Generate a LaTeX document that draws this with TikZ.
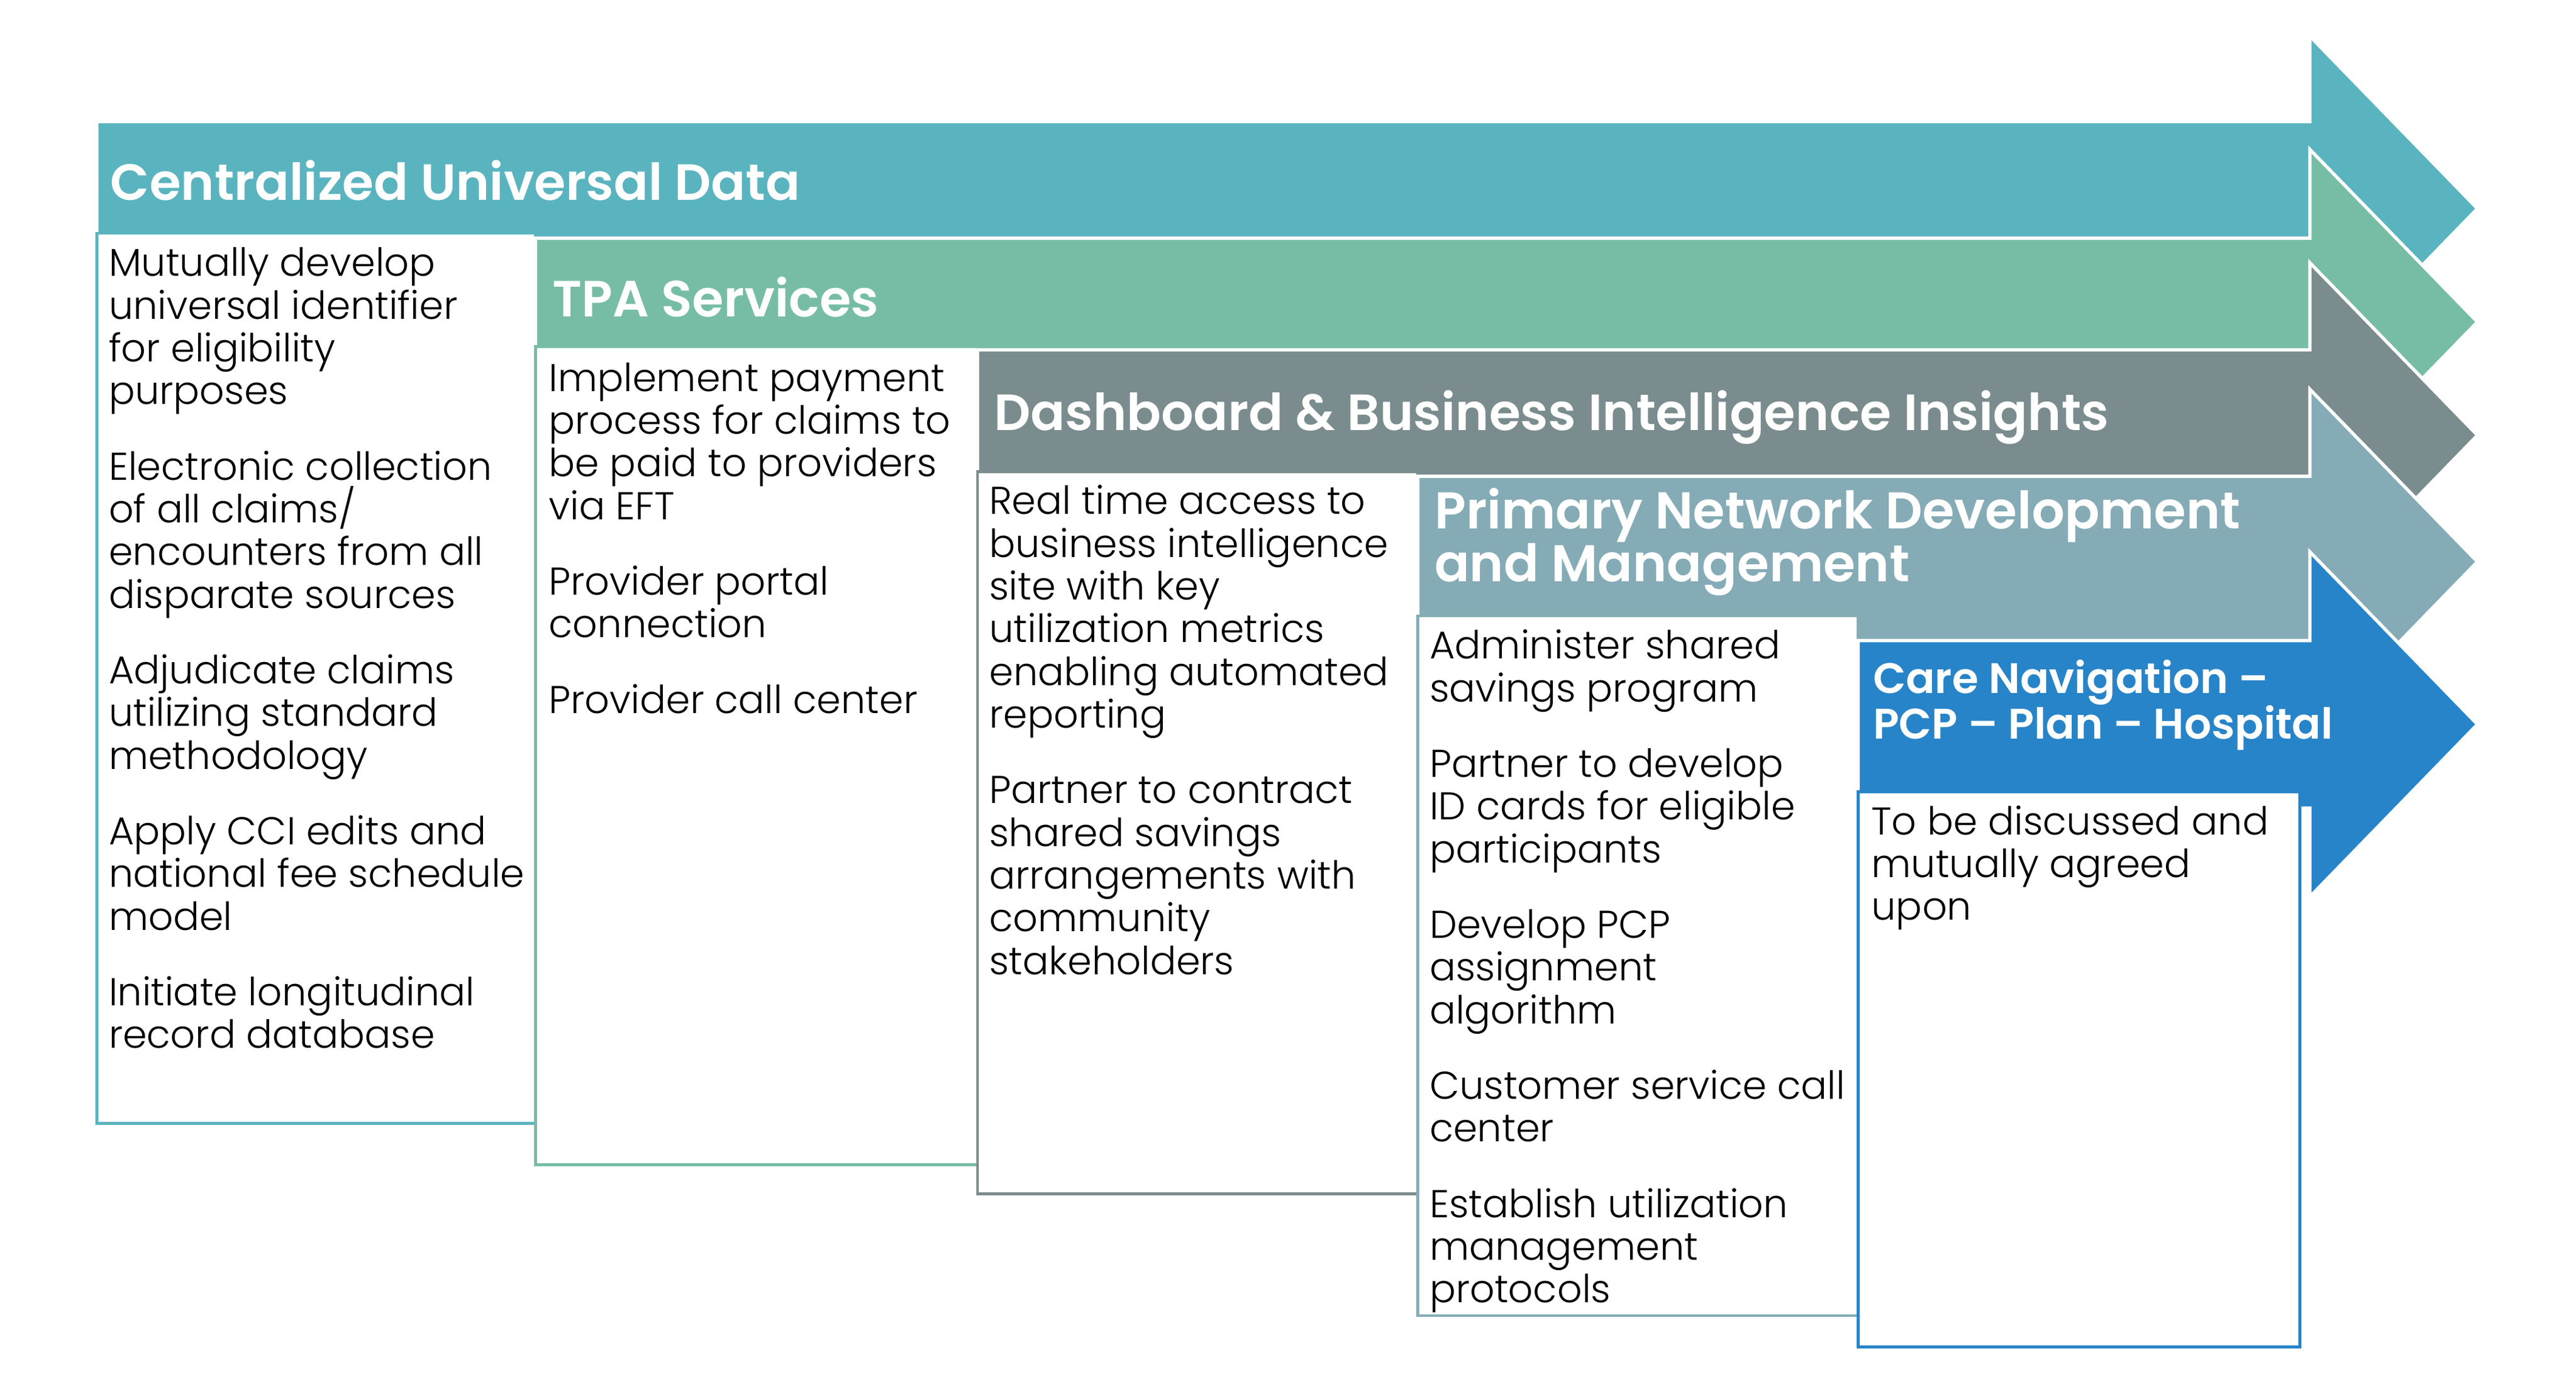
\documentclass[tikz,border=0pt]{standalone}
\usepackage{fontspec}
\newfontfamily\bodyfont{Poppins Light}
\newfontfamily\titlefont{Poppins SemiBold}
\definecolor{cA}{HTML}{5AB4BF}
\definecolor{cB}{HTML}{77BDA6}
\definecolor{cC}{HTML}{7B8C8E}
\definecolor{cD}{HTML}{85ACB6}
\definecolor{cE}{HTML}{2884C8}
\newcommand\stagearr[4]{\path[stagearrow=#1] (#2,#3) -- (1406,#3) -- (1406,{#4-105}) -- (1508,#4) -- (1406,{#4+105}) -- (1406,{2*#4-#3}) -- (#2,{2*#4-#3}) -- cycle;}
\newcommand\firstline{\rule{0pt}{20pt}}
\begin{document}
\begin{tikzpicture}[x=1pt,y=-1pt,
  titletext/.style={anchor=base west, inner sep=0pt, text=white, font=\titlefont\fontsize{31}{32}\selectfont, align=left},
  bodytext/.style={anchor=north west, inner sep=0pt, font=\bodyfont\fontsize{23.6}{26}\selectfont, align=left},
  stagebox/.style={draw=#1, fill=white, line width=1.8pt},
  stagearrow/.style={fill=#1, draw=white, line width=2pt, line join=miter}]
\useasboundingbox (0,0) rectangle (1568,848.4);
% stage 1
\stagearr{cA}{59}{74}{127}
\draw[stagebox=cA] (59,142) rectangle (326,684);
\node[titletext] (t1) at (67,122) {Centralized Universal Data};
\node[bodytext] (b1) at (66,148) {\firstline Mutually develop\\universal identifier\\for eligibility\\purposes\\[20pt]Electronic collection\\of all claims/\\encounters from all\\disparate sources\\[20pt]Adjudicate claims\\utilizing standard\\methodology\\[20pt]Apply CCI edits and\\national fee schedule\\model\\[20pt]Initiate longitudinal\\record database};
% stage 2
\stagearr{cB}{326}{145}{196}
\draw[stagebox=cB] (326,211) rectangle (595,709);
\node[titletext] (t2) at (336,193) {TPA Services};
\node[bodytext] (b2) at (334,218) {\firstline Implement payment\\process for claims to\\be paid to providers\\via EFT\\[20pt]Provider portal\\connection\\[20pt]Provider call center};
% stage 3
\stagearr{cC}{595}{213}{265}
\draw[stagebox=cC] (595,287) rectangle (863,727);
\node[titletext] (t3) at (605,262) {Dashboard \& Business Intelligence Insights};
\node[bodytext] (b3) at (602,293) {\firstline Real time access to\\business intelligence\\site with key\\utilization metrics\\enabling automated\\reporting\\[20pt]Partner to contract\\shared savings\\arrangements with\\community\\stakeholders};
% stage 4
\stagearr{cD}{863}{290}{342}
\draw[stagebox=cD] (863,375) rectangle (1131,801);
\node[titletext, font=\titlefont\fontsize{31.5}{32}\selectfont] (t4) at (873,354) {Primary Network Development\\and Management};
\node[bodytext] (b4) at (870,381) {\firstline Administer shared\\savings program\\[20pt]Partner to develop\\ID cards for eligible\\participants\\[20pt]Develop PCP\\assignment\\algorithm\\[20pt]Customer service call\\center\\[20pt]Establish utilization\\management\\protocols};
% stage 5
\stagearr{cE}{1131}{390}{441}
\draw[stagebox=cE] (1131,482) rectangle (1400,820);
\node[titletext, font=\titlefont\fontsize{26}{28}\selectfont] (t5) at (1140,450) {Care Navigation –\\PCP – Plan – Hospital};
\node[bodytext] (b5) at (1139,488) {\firstline To be discussed and\\mutually agreed\\upon};
\end{tikzpicture}
\end{document}
